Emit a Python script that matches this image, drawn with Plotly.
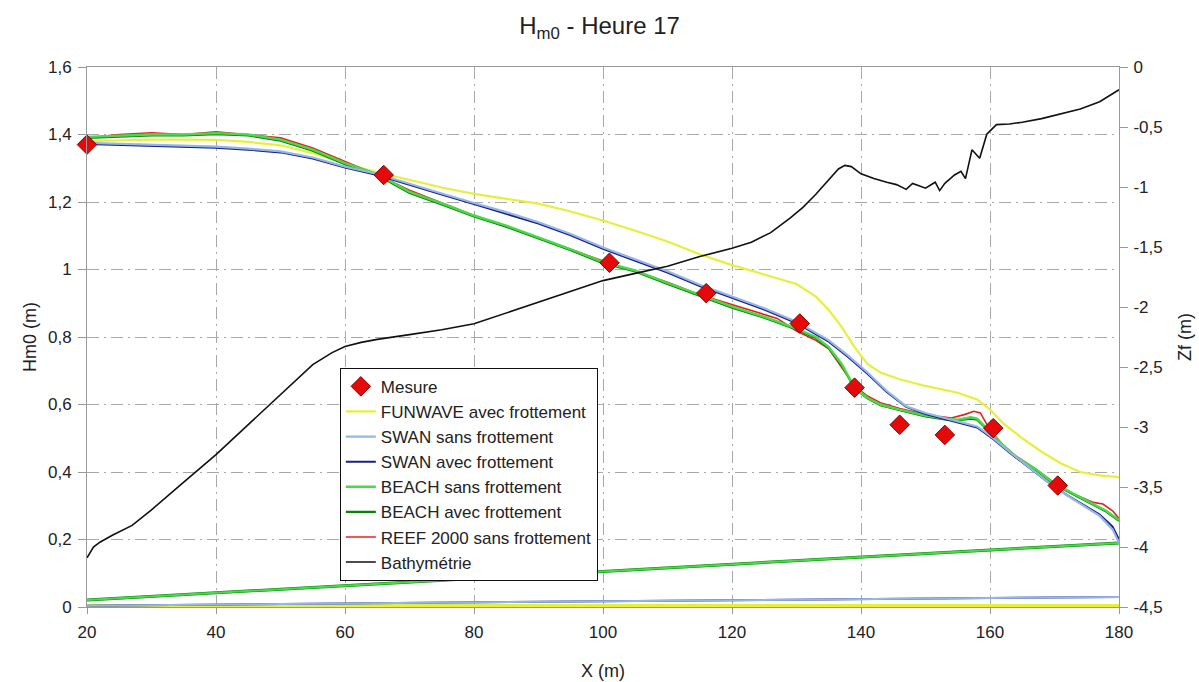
import plotly.graph_objects as go

# --- Measured significant wave height ---
mesure_x = [20, 66, 101, 116, 130.5, 139, 146, 153, 160.5, 170.5]
mesure_y = [1.37, 1.28, 1.02, 0.93, 0.84, 0.65, 0.54, 0.51, 0.53, 0.36]

# --- FUNWAVE avec frottement ---
funwave_x = [20, 25, 30, 35, 40, 45, 50, 55, 60, 65, 70, 75, 80, 85, 90, 95, 100, 105,
             110, 115, 120, 125, 130, 133, 135, 137, 139, 141, 143, 146, 150, 155, 158,
             160, 162, 165, 168, 171, 174, 177, 180]
funwave_y = [1.38, 1.383, 1.385, 1.385, 1.384, 1.378, 1.368, 1.345, 1.315, 1.288, 1.265,
             1.243, 1.224, 1.21, 1.195, 1.172, 1.145, 1.115, 1.083, 1.045, 1.013, 0.985,
             0.957, 0.92, 0.88, 0.83, 0.77, 0.72, 0.695, 0.675, 0.655, 0.635, 0.615,
             0.585, 0.545, 0.5, 0.46, 0.425, 0.4, 0.39, 0.385]

# --- SWAN sans / avec frottement ---
swan_x = [20, 25, 30, 35, 40, 45, 50, 55, 60, 65, 70, 75, 80, 85, 90, 95, 100, 105, 110,
          115, 120, 125, 130, 135, 138, 141, 144, 147, 150, 153, 156, 158, 160, 163, 166,
          169, 172, 175, 177, 179, 180]
swan_sans_y = [1.375, 1.372, 1.37, 1.368, 1.364, 1.358, 1.35, 1.332, 1.305, 1.283, 1.253,
               1.225, 1.197, 1.17, 1.14, 1.105, 1.065, 1.03, 0.995, 0.955, 0.92, 0.885,
               0.845, 0.79, 0.745, 0.695, 0.64, 0.595, 0.575, 0.56, 0.547, 0.535, 0.508,
               0.46, 0.415, 0.37, 0.33, 0.295, 0.27, 0.23, 0.19]
swan_avec_y = [1.372, 1.369, 1.367, 1.365, 1.361, 1.355, 1.347, 1.329, 1.302, 1.28, 1.25,
               1.222, 1.194, 1.166, 1.136, 1.101, 1.061, 1.026, 0.991, 0.951, 0.916, 0.881,
               0.841, 0.786, 0.741, 0.691, 0.637, 0.593, 0.572, 0.557, 0.544, 0.532, 0.505,
               0.458, 0.414, 0.37, 0.331, 0.297, 0.274, 0.238, 0.2]

# --- BEACH sans / avec frottement ---
beach_x = [20, 25, 30, 35, 40, 45, 50, 55, 60, 65, 70, 75, 80, 85, 90, 95, 100, 105, 110,
           115, 120, 125, 130, 133, 135, 137, 139, 141, 143, 146, 150, 153, 155, 157, 158,
           160, 162, 164, 167, 170, 173, 176, 178, 180]
beach_sans_y = [1.393, 1.397, 1.4, 1.4, 1.404, 1.4, 1.385, 1.355, 1.315, 1.283, 1.23, 1.196,
                1.16, 1.13, 1.095, 1.06, 1.022, 0.997, 0.96, 0.925, 0.89, 0.86, 0.825, 0.8,
                0.77, 0.72, 0.65, 0.62, 0.6, 0.585, 0.567, 0.558, 0.555, 0.562, 0.558, 0.52,
                0.48, 0.445, 0.41, 0.365, 0.335, 0.305, 0.285, 0.258]
beach_avec_y = [1.39, 1.394, 1.397, 1.397, 1.401, 1.397, 1.382, 1.352, 1.312, 1.28, 1.227,
                1.193, 1.157, 1.127, 1.092, 1.057, 1.019, 0.994, 0.957, 0.922, 0.887, 0.857,
                0.822, 0.797, 0.767, 0.717, 0.648, 0.618, 0.598, 0.583, 0.565, 0.556, 0.553,
                0.558, 0.555, 0.518, 0.478, 0.443, 0.408, 0.363, 0.333, 0.303, 0.283, 0.255]

# --- REEF 2000 sans frottement ---
reef_x = [20, 25, 30, 35, 40, 45, 50, 55, 60, 65, 70, 75, 80, 85, 90, 95, 100, 105, 110,
          115, 120, 124, 127, 130, 133, 135, 137, 139, 141, 143, 146, 149, 152, 154, 156,
          157.5, 158.5, 160, 162, 164, 167, 170, 173, 176, 177.5, 179, 180]
reef_y = [1.39, 1.4, 1.405, 1.4, 1.408, 1.4, 1.39, 1.36, 1.32, 1.28, 1.235, 1.198, 1.16,
          1.127, 1.095, 1.06, 1.025, 0.995, 0.962, 0.925, 0.895, 0.873, 0.855, 0.818, 0.79,
          0.765, 0.71, 0.655, 0.625, 0.605, 0.588, 0.575, 0.565, 0.56, 0.57, 0.58, 0.575,
          0.525, 0.48, 0.448, 0.41, 0.368, 0.335, 0.31, 0.305, 0.285, 0.262]

# --- Straight closing segments running back along the bottom of the plot ---
base_x = [20, 180]
funwave_base_y = [0.0, 0.0]
swan_base_y = [0.004, 0.03]
beach_base_y = [0.021, 0.19]

# --- Bathymétrie (right axis) ---
bathy_x = [20, 21, 22, 24, 27, 30, 35, 40, 45, 50, 55, 58, 60, 62.5, 65, 70, 75, 80, 82.5,
           85, 90, 95, 100, 105, 110, 115, 120, 123, 126, 129, 131, 133, 135, 136.5, 137.5,
           138.5, 140, 142, 144, 145.5, 147, 148, 149, 150, 151.5, 152.2, 153, 154.5,
           155.5, 156.2, 157.2, 158.4, 159.5, 161, 163, 165, 168, 171, 174, 177, 180]
bathy_z = [-4.09, -4.0, -3.96, -3.9, -3.82, -3.69, -3.46, -3.23, -2.98, -2.73, -2.48,
           -2.38, -2.33, -2.295, -2.27, -2.23, -2.19, -2.14, -2.095, -2.045, -1.955, -1.87,
           -1.78, -1.72, -1.66, -1.58, -1.51, -1.46, -1.38, -1.26, -1.17, -1.06, -0.94,
           -0.85, -0.82, -0.83, -0.89, -0.93, -0.96, -0.98, -1.02, -0.97, -0.99, -1.01,
           -0.96, -1.03, -0.97, -0.9, -0.87, -0.93, -0.69, -0.76, -0.56, -0.48, -0.475,
           -0.46, -0.43, -0.39, -0.35, -0.29, -0.19]

# --- Tick labels ---
x_ticks = [20, 40, 60, 80, 100, 120, 140, 160, 180]
y_ticks = [0, 0.2, 0.4, 0.6, 0.8, 1.0, 1.2, 1.4, 1.6]
y_ticktext = ["0", "0,2", "0,4", "0,6", "0,8", "1", "1,2", "1,4", "1,6"]
y2_ticks = [0, -0.5, -1, -1.5, -2, -2.5, -3, -3.5, -4, -4.5]
y2_ticktext = ["0", "-0,5", "-1", "-1,5", "-2", "-2,5", "-3", "-3,5", "-4", "-4,5"]

C_FUNWAVE = "#e6f03a"
C_SWAN_SANS = "#93b7e6"
C_SWAN_AVEC = "#1c1c8a"
C_BEACH_SANS = "#45dc45"
C_BEACH_AVEC = "#0a820a"
C_REEF = "#e8201c"
C_BATHY = "#111111"

FONT = "Liberation Sans, Arial, sans-serif"

fig = go.Figure()


def line(x, y, name, color, width=2, rank=None, show=True, yaxis="y"):
    fig.add_trace(go.Scatter(
        x=x, y=y, mode="lines", name=name, yaxis=yaxis,
        line=dict(color=color, width=width),
        showlegend=show, legendrank=rank if rank else 1000,
        hoverinfo="skip" if not show else None,
    ))


# closing segments along the bottom
line(base_x, funwave_base_y, "FUNWAVE base", C_FUNWAVE, 6, show=False)
line(base_x, swan_base_y, "SWAN avec base", C_SWAN_AVEC, 2, show=False)
line(base_x, swan_base_y, "SWAN sans base", C_SWAN_SANS, 2, show=False)
line(base_x, beach_base_y, "BEACH avec base", C_BEACH_AVEC, 3, show=False)
line(base_x, beach_base_y, "BEACH sans base", C_BEACH_SANS, 2, show=False)

# model curves
line(funwave_x, funwave_y, "FUNWAVE avec frottement", C_FUNWAVE, 2.2, rank=2)
line(reef_x, reef_y, "REEF 2000 sans frottement", C_REEF, 1.6, rank=7)
line(beach_x, beach_avec_y, "BEACH avec frottement", C_BEACH_AVEC, 2.2, rank=6)
line(beach_x, beach_sans_y, "BEACH sans frottement", C_BEACH_SANS, 2.4, rank=5)
line(swan_x, swan_avec_y, "SWAN avec frottement", C_SWAN_AVEC, 2, rank=4)
line(swan_x, swan_sans_y, "SWAN sans frottement", C_SWAN_SANS, 2.2, rank=3)

# measurements
fig.add_trace(go.Scatter(
    x=mesure_x, y=mesure_y, mode="markers", name="Mesure", legendrank=1,
    cliponaxis=False,
    marker=dict(symbol="diamond", size=15, color="#e40a0a",
                line=dict(color="#8a0000", width=1)),
))

# bathymetry on the right axis
line(bathy_x, bathy_z, "Bathymétrie", C_BATHY, 1.6, rank=8, yaxis="y2")

grid_dash = "12px,5px,2px,5px"
AXIS_GREY = "#999999"

fig.update_layout(
    width=1199, height=682,
    margin=dict(l=87, r=80, t=67, b=75, autoexpand=False),
    paper_bgcolor="white", plot_bgcolor="white",
    font=dict(family=FONT, size=17, color="#222222"),
    title=dict(text="H<sub>m0</sub> - Heure 17", x=0.5, xanchor="center",
               y=0.963, yanchor="middle", font=dict(size=24, color="#222222")),
    xaxis=dict(
        range=[20, 180], tickvals=x_ticks, ticks="outside", ticklen=6,
        tickcolor=AXIS_GREY, showline=True, linecolor=AXIS_GREY, linewidth=1,
        mirror=True, showgrid=True, gridcolor="#a8a8a8", griddash=grid_dash,
        gridwidth=1, zeroline=False, ticklabelstandoff=4, automargin=False,
        tickfont=dict(size=17),
        title=dict(text="X (m)", standoff=22, font=dict(size=18)),
    ),
    yaxis=dict(
        range=[0, 1.6], tickvals=y_ticks, ticktext=y_ticktext, ticks="outside",
        ticklen=8, tickcolor=AXIS_GREY, showline=True, linecolor=AXIS_GREY,
        linewidth=1, showgrid=True, gridcolor="#a8a8a8", griddash=grid_dash,
        gridwidth=1, zeroline=False, ticklabelstandoff=3, automargin=False,
        tickfont=dict(size=17),
        title=dict(text="Hm0 (m)", standoff=6, font=dict(size=18)),
    ),
    yaxis2=dict(
        overlaying="y", side="right", range=[-4.5, 0], tickvals=y2_ticks,
        ticktext=y2_ticktext, ticks="outside", ticklen=8, tickcolor=AXIS_GREY,
        showline=True, linecolor=AXIS_GREY, linewidth=1, showgrid=False,
        zeroline=False, ticklabelstandoff=2, tickfont=dict(size=17), automargin=False,
        title=dict(text="Zf (m)", standoff=16, font=dict(size=18)),
    ),
    legend=dict(
        x=0.245, y=0.443, xanchor="left", yanchor="top",
        bgcolor="white", bordercolor="#111111", borderwidth=1,
        font=dict(size=17, color="#222222"), itemwidth=30,
        tracegroupgap=0,
    ),
    showlegend=True,
)

fig.write_html("out.html")
